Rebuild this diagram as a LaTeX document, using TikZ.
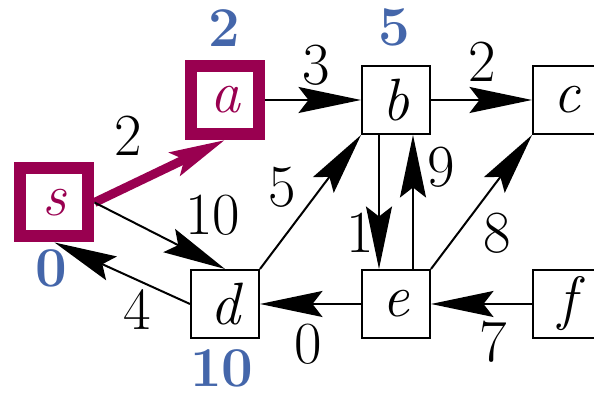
\documentclass[tikz,border=0pt]{standalone}
\usepackage{fontspec}
\usetikzlibrary{arrows.meta}
\definecolor{treepurple}{RGB}{153,0,80}
\definecolor{distblue}{RGB}{68,102,170}
\begin{document}
\begin{tikzpicture}[
    vertex/.style={draw,line width=0.04cm,minimum size=1.36cm,inner sep=0pt,font=\fontsize{34}{40}\selectfont\itshape},
    treevertex/.style={vertex,draw=treepurple,text=treepurple,line width=0.24cm},
    edge/.style={line width=0.04cm,-{Stealth[length=1.25cm,width=0.52cm,inset=0.2cm]}},
    treeedge/.style={treepurple,line width=0.18cm,-{Stealth[length=1.1cm,width=0.5cm,inset=0.2cm]}},
    weight/.style={font=\fontsize{34}{40}\selectfont,inner sep=0pt},
    dist/.style={font=\fontsize{32}{38}\selectfont\bfseries,text=distblue,inner sep=0pt}]
        \useasboundingbox (0,0) rectangle (11.88,7.92);
        \node[treevertex] (s) at (1.09,3.87) {s}; %頂点
        \node[treevertex] (a) at (4.5,5.92) {a};
        \node[vertex] (b) at (7.92,5.92) {b};
        \node[vertex] (c) at (11.34,5.92) {c};
        \node[vertex] (d) at (4.5,1.84) {d};
        \node[vertex] (e) at (7.92,1.84) {e};
        \node[vertex] (f) at (11.34,1.84) {f};
        \draw[treeedge] (s.east)--(a.south); %最短路木
        \draw[edge] (a)--(b); %辺
        \draw[edge] (b)--(c);
        \draw[edge] (s.east)--(d.north);
        \draw[edge] (d.west)--(s.south);
        \draw[edge] (d.north east)--(b.south west);
        \draw[edge] ([xshift=-0.34cm]b.south)--([xshift=-0.34cm]e.north);
        \draw[edge] ([xshift=0.34cm]e.north)--([xshift=0.34cm]b.south);
        \draw[edge] (e.north east)--(c.south west);
        \draw[edge] (e)--(d);
        \draw[edge] (f)--(e);
        \node[weight] (wsa) at (2.56,5.2) {2}; %重み
        \node[weight] (wab) at (6.32,6.62) {3};
        \node[weight] (wbc) at (9.64,6.68) {2};
        \node[weight] (wsd) at (4.26,3.62) {10};
        \node[weight] (wds) at (2.74,1.72) {4};
        \node[weight] (wdb) at (5.64,4.18) {5};
        \node[weight] (wbe) at (7.2,3.26) {1};
        \node[weight] (web) at (8.82,4.58) {9};
        \node[weight] (wec) at (9.94,3.26) {8};
        \node[weight] (wed) at (6.16,1.04) {0};
        \node[weight] (wfe) at (9.86,1.08) {7};
        \node[dist] (ds) at (1.02,2.56) {0}; %距離
        \node[dist] (da) at (4.48,7.36) {2};
        \node[dist] (db) at (7.88,7.38) {5};
        \node[dist] (dd) at (4.44,0.56) {10};
\end{tikzpicture}
\end{document}
